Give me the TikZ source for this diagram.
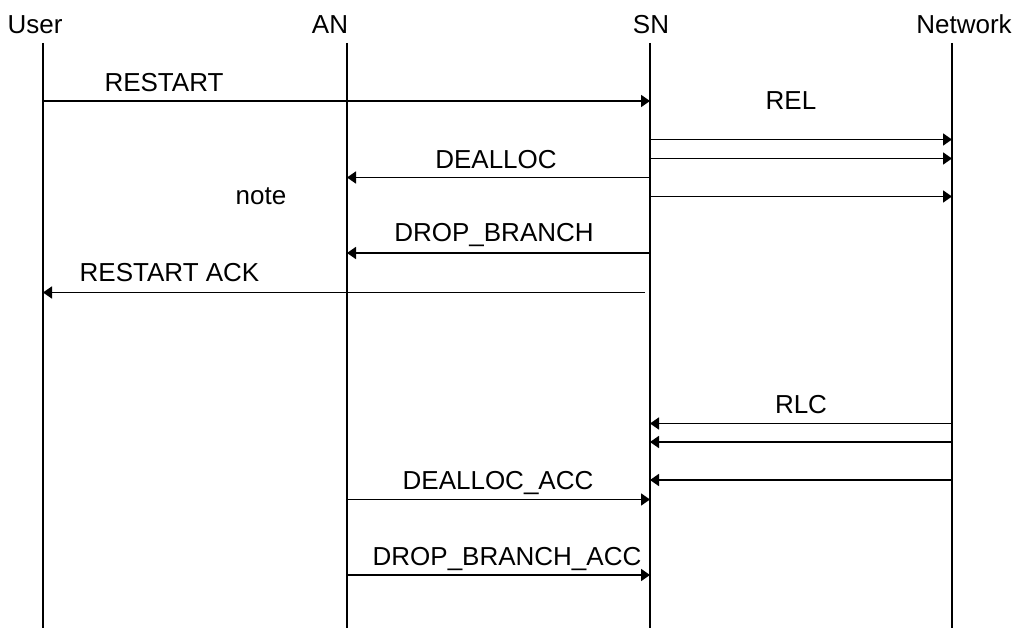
\documentclass[tikz,border=0pt]{standalone}
\usepackage{fontspec}
\setmainfont{Liberation Sans}
\usetikzlibrary{arrows.meta}
\begin{document}
\begin{tikzpicture}[x=1pt,y=-1pt,
  lbl/.style={inner sep=0pt,anchor=base,font=\fontsize{26}{31}\selectfont},
  lifeline/.style={line width=2pt},
  msg/.style={line width=1.8pt,-{Triangle[length=9pt,width=12pt]}}]
\useasboundingbox (0,0) rectangle (1016,628);
% lifeline coordinates
\coordinate (user) at (43,43);
\coordinate (an) at (347,43);
\coordinate (sn) at (650,43);
\coordinate (net) at (952,43);
\coordinate (userB) at (43,628);
\coordinate (anB) at (347,628);
\coordinate (snB) at (650,628);
\coordinate (netB) at (952,628);
% headers
\node[lbl] (hUser) at (35,34) {User};
\node[lbl] (hAN) at (330,34) {AN};
\node[lbl] (hSN) at (651,34) {SN};
\node[lbl] (hNet) at (964,34) {Network};
% lifelines
\draw[lifeline] (user) -- (userB);
\draw[lifeline] (an) -- (anB);
\draw[lifeline] (sn) -- (snB);
\draw[lifeline] (net) -- (netB);
% messages
\draw[msg] (user |- 0,101) -- (sn |- 0,101);
\node[lbl] (lRestart) at (164,92) {RESTART};

\node[lbl] (lRel) at (791,110) {REL};
\draw[msg] (sn |- 0,139.5) -- (net |- 0,139.5);
\draw[msg] (sn |- 0,158.5) -- (net |- 0,158.5);
\draw[msg] (sn |- 0,196.5) -- (net |- 0,196.5);

\draw[msg] (sn |- 0,177.5) -- (an |- 0,177.5);
\node[lbl] (lDealloc) at (496,169) {DEALLOC};

\node[lbl] (lNote) at (261,204.5) {note};

\draw[msg] (sn |- 0,253) -- (an |- 0,253);
\node[lbl] (lDrop) at (494,241) {DROP\_BRANCH};

\coordinate (ackStart) at (645,292.5);
\draw[msg] (ackStart) -- (user |- ackStart);
\node[lbl] (lAck) at (169.5,281) {RESTART ACK};

\node[lbl] (lRlc) at (801,413) {RLC};
\draw[msg] (net |- 0,423.5) -- (sn |- 0,423.5);
\draw[msg] (net |- 0,442) -- (sn |- 0,442);
\draw[msg] (net |- 0,480) -- (sn |- 0,480);

\draw[msg] (an |- 0,499.5) -- (sn |- 0,499.5);
\node[lbl] (lDeallocAcc) at (498,489) {DEALLOC\_ACC};

\draw[msg] (an |- 0,575) -- (sn |- 0,575);
\node[lbl] (lDropAcc) at (507,565) {DROP\_BRANCH\_ACC};
\end{tikzpicture}
\end{document}
